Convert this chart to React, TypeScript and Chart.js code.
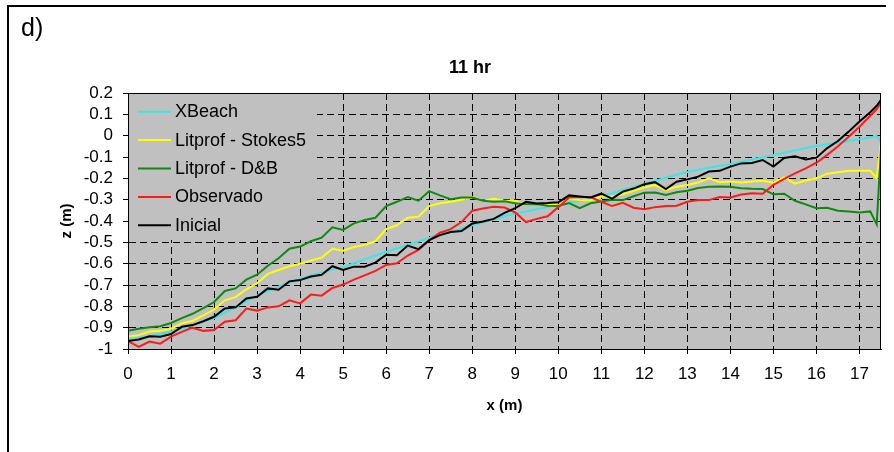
import React, { useEffect, useRef } from "react";
import { Chart, registerables } from "chart.js";

Chart.register(...registerables);

const FONT = "'Liberation Sans', Arial, sans-serif";

const xs = [
  0, 0.25, 0.5, 0.75, 1, 1.25, 1.5, 1.75, 2, 2.25, 2.5, 2.75, 3, 3.25, 3.5, 3.75,
  4, 4.25, 4.5, 4.75, 5, 5.25, 5.5, 5.75, 6, 6.25, 6.5, 6.75, 7, 7.25, 7.5, 7.75,
  8, 8.25, 8.5, 8.75, 9, 9.25, 9.5, 9.75, 10, 10.25, 10.5, 10.75, 11, 11.25, 11.5, 11.75,
  12, 12.25, 12.5, 12.75, 13, 13.25, 13.5, 13.75, 14, 14.25, 14.5, 14.75, 15, 15.25, 15.5, 15.75,
  16, 16.25, 16.5, 16.75, 17, 17.25, 17.4, 17.5,
];

const xbeach = [
  -0.955, -0.948, -0.94, -0.93, -0.918, -0.905, -0.89, -0.873,
  -0.855, -0.83, -0.805, -0.777, -0.75, -0.728, -0.708, -0.688,
  -0.67, -0.655, -0.642, -0.628, -0.615, -0.598, -0.58, -0.562,
  -0.545, -0.528, -0.512, -0.496, -0.48, -0.465, -0.45, -0.435,
  -0.42, -0.406, -0.392, -0.378, -0.365, -0.355, -0.345, -0.335,
  -0.325, -0.315, -0.305, -0.295, -0.285, -0.27, -0.255, -0.24,
  -0.225, -0.211, -0.197, -0.183, -0.17, -0.16, -0.15, -0.141,
  -0.133, -0.122, -0.112, -0.101, -0.091, -0.08, -0.069, -0.058,
  -0.048, -0.04, -0.032, -0.024, -0.017, -0.007, -0.002, -0.03,
];

const stokes5 = [
  -0.942, -0.935, -0.918, -0.915, -0.905, -0.88, -0.868, -0.842,
  -0.815, -0.772, -0.757, -0.72, -0.692, -0.648, -0.63, -0.612,
  -0.6, -0.585, -0.572, -0.53, -0.539, -0.522, -0.512, -0.495,
  -0.438, -0.42, -0.385, -0.38, -0.33, -0.317, -0.31, -0.3,
  -0.288, -0.305, -0.296, -0.305, -0.305, -0.325, -0.32, -0.318,
  -0.328, -0.296, -0.302, -0.303, -0.285, -0.285, -0.275, -0.258,
  -0.242, -0.232, -0.255, -0.239, -0.231, -0.22, -0.2, -0.218,
  -0.215, -0.22, -0.215, -0.211, -0.22, -0.195, -0.225, -0.21,
  -0.2, -0.178, -0.172, -0.164, -0.164, -0.164, -0.2, -0.03,
];

const dB = [
  -0.914, -0.905, -0.898, -0.893, -0.878, -0.855, -0.835, -0.808,
  -0.78, -0.728, -0.716, -0.675, -0.652, -0.61, -0.575, -0.53,
  -0.52, -0.495, -0.478, -0.43, -0.442, -0.411, -0.395, -0.385,
  -0.33, -0.31, -0.288, -0.305, -0.26, -0.28, -0.298, -0.29,
  -0.29, -0.305, -0.31, -0.308, -0.317, -0.322, -0.32, -0.328,
  -0.33, -0.316, -0.34, -0.317, -0.309, -0.3, -0.302, -0.284,
  -0.267, -0.266, -0.278, -0.265, -0.258, -0.245, -0.24, -0.238,
  -0.24, -0.246, -0.249, -0.25, -0.275, -0.272, -0.305, -0.322,
  -0.34, -0.338, -0.352, -0.356, -0.36, -0.355, -0.416, -0.06,
];

const observado = [
  -0.963, -0.99, -0.965, -0.975, -0.942, -0.92, -0.9, -0.915,
  -0.911, -0.872, -0.865, -0.81, -0.82, -0.805, -0.8, -0.772,
  -0.786, -0.745, -0.75, -0.714, -0.698, -0.675, -0.655, -0.634,
  -0.606, -0.598, -0.562, -0.536, -0.49, -0.455, -0.438, -0.405,
  -0.352, -0.341, -0.333, -0.337, -0.36, -0.405, -0.39, -0.378,
  -0.335, -0.29, -0.287, -0.288, -0.31, -0.33, -0.315, -0.338,
  -0.345, -0.335, -0.33, -0.328, -0.31, -0.302, -0.302, -0.288,
  -0.29, -0.276, -0.27, -0.272, -0.231, -0.202, -0.177, -0.153,
  -0.127, -0.09, -0.05, -0.005, 0.042, 0.093, 0.125, 0.155,
];

const inicial = [
  -0.963, -0.955, -0.94, -0.942, -0.93, -0.896, -0.888, -0.87,
  -0.849, -0.81, -0.805, -0.763, -0.755, -0.716, -0.722, -0.683,
  -0.677, -0.66, -0.652, -0.612, -0.63, -0.614, -0.614, -0.595,
  -0.558, -0.56, -0.515, -0.532, -0.49, -0.466, -0.452, -0.447,
  -0.412, -0.402, -0.39, -0.362, -0.34, -0.31, -0.318, -0.316,
  -0.312, -0.28, -0.285, -0.29, -0.272, -0.295, -0.262, -0.248,
  -0.228, -0.218, -0.25, -0.216, -0.205, -0.192, -0.168, -0.165,
  -0.145, -0.13, -0.128, -0.114, -0.145, -0.105, -0.097, -0.112,
  -0.103, -0.058, -0.025, 0.019, 0.066, 0.11, 0.14, 0.168,
];

const seriesNames = ["XBeach", "Litprof - Stokes5", "Litprof - D&B", "Observado", "Inicial"];
const seriesColors = ["#3CE6E6", "#FFFF00", "#118811", "#FF1A1A", "#000000"];
const seriesValues = [xbeach, stokes5, dB, observado, inicial];

const xTicks = [0, 1, 2, 3, 4, 5, 6, 7, 8, 9, 10, 11, 12, 13, 14, 15, 16, 17];
const yTicks = [-1, -0.9, -0.8, -0.7, -0.6, -0.5, -0.4, -0.3, -0.2, -0.1, 0, 0.1, 0.2];
const yTickLabels = ["-1", "-0.9", "-0.8", "-0.7", "-0.6", "-0.5", "-0.4", "-0.3", "-0.2", "-0.1", "0", "0.1", "0.2"];

const chartTitle = "11 hr";
const panelLabel = "d)";

const decor = {
  id: "decor",
  beforeDraw(chart: any) {
    const { ctx, chartArea: a } = chart;
    ctx.save();
    ctx.fillStyle = "#ffffff";
    ctx.fillRect(0, 0, chart.width, chart.height);
    ctx.fillStyle = "#C0C0C0";
    ctx.fillRect(a.left, a.top, a.right - a.left, a.bottom - a.top);
    ctx.restore();
  },
  beforeDatasetsDraw(chart: any) {
    const { ctx, chartArea: a } = chart;
    ctx.save();
    ctx.fillStyle = "#C0C0C0";
    ctx.fillRect(a.left + 1, a.top + 1, 188, 146);
    ctx.font = `18px ${FONT}`;
    ctx.textBaseline = "middle";
    ctx.textAlign = "left";
    chart.data.datasets.forEach((ds: any, i: number) => {
      const y = 111.7 + 28.4 * i;
      ctx.strokeStyle = ds.borderColor;
      ctx.lineWidth = 2;
      ctx.setLineDash([]);
      ctx.beginPath();
      ctx.moveTo(138, y);
      ctx.lineTo(171, y);
      ctx.stroke();
      ctx.fillStyle = "#000";
      ctx.fillText(ds.label, 175, y + 0.5);
    });
    ctx.restore();
  },
  afterDraw(chart: any) {
    const { ctx, chartArea: a } = chart;
    ctx.save();
    ctx.setLineDash([]);
    ctx.strokeStyle = "#000";
    ctx.lineWidth = 1;
    ctx.strokeRect(a.left + 0.5, a.top + 0.5, a.right - a.left - 1, a.bottom - a.top);
    ctx.lineWidth = 2;
    ctx.beginPath();
    ctx.moveTo(8, 452);
    ctx.lineTo(8, 6);
    ctx.lineTo(886, 6);
    ctx.stroke();
    ctx.fillStyle = "#000";
    ctx.font = `bold 18px ${FONT}`;
    ctx.textAlign = "center";
    ctx.textBaseline = "middle";
    ctx.fillText(chartTitle, 470, 68);
    ctx.font = `25px ${FONT}`;
    ctx.textAlign = "left";
    ctx.textBaseline = "alphabetic";
    ctx.fillText(panelLabel, 21, 36);
    ctx.restore();
  },
};

export default function App() {
  const ref = useRef<HTMLCanvasElement | null>(null);
  useEffect(() => {
    if (!ref.current) return;
    const datasets = seriesNames.map((name, i) => ({
      label: name,
      data: xs.map((x, j) => ({ x, y: seriesValues[i][j] })),
      borderColor: seriesColors[i],
      backgroundColor: seriesColors[i],
      borderWidth: 2,
      pointRadius: 0,
      tension: 0,
      fill: false,
      order: seriesNames.length - i,
    }));
    const tickFont = { family: FONT, size: 17 };
    const titleFont = { family: FONT, size: 15, weight: "bold" as const };
    const chart = new Chart(ref.current, {
      type: "line",
      data: { datasets },
      plugins: [decor],
      options: {
        animation: false,
        responsive: false,
        devicePixelRatio: 1,
        layout: { padding: { top: 93, right: 13, bottom: 0, left: 0 } },
        plugins: {
          legend: { display: false },
          title: { display: false },
          tooltip: { enabled: false },
        },
        scales: {
          x: {
            type: "linear",
            min: 0,
            max: 17.5,
            afterBuildTicks: (s: any) => {
              s.ticks = xTicks.map((v) => ({ value: v }));
            },
            afterFit: (s: any) => {
              s.height = 103;
            },
            ticks: {
              font: tickFont,
              color: "#000",
              padding: 10,
              autoSkip: false,
              maxRotation: 0,
              callback: (v: any) => String(v),
            },
            grid: {
              color: "#000",
              lineWidth: 1,
              drawTicks: true,
              tickLength: 5,
              tickColor: "#000",
              tickBorderDash: [],
            },
            border: { display: true, color: "#000", width: 1, dash: [7, 4] },
            title: {
              display: true,
              text: "x (m)",
              font: titleFont,
              color: "#000",
              padding: { top: 0, bottom: 37 },
            },
          },
          y: {
            type: "linear",
            min: -1,
            max: 0.2,
            afterBuildTicks: (s: any) => {
              s.ticks = yTicks.map((v) => ({ value: v }));
            },
            afterFit: (s: any) => {
              s.width = 128;
            },
            ticks: {
              font: tickFont,
              color: "#000",
              padding: 10,
              autoSkip: false,
              callback: (_v: any, i: number) => yTickLabels[i],
            },
            grid: {
              color: "#000",
              lineWidth: 1,
              drawTicks: true,
              tickLength: 5,
              tickColor: "#000",
              tickBorderDash: [],
            },
            border: { display: true, color: "#000", width: 1, dash: [7, 4] },
            title: {
              display: true,
              text: "z (m)",
              font: titleFont,
              color: "#000",
              padding: { top: 58, bottom: 0 },
            },
          },
        },
      },
    });
    return () => chart.destroy();
  }, []);
  return (
    <div style={{ position: "fixed", left: 0, top: 0, width: 894, height: 452, background: "#fff" }}>
      <canvas ref={ref} width={894} height={452} style={{ display: "block" }} />
    </div>
  );
}
